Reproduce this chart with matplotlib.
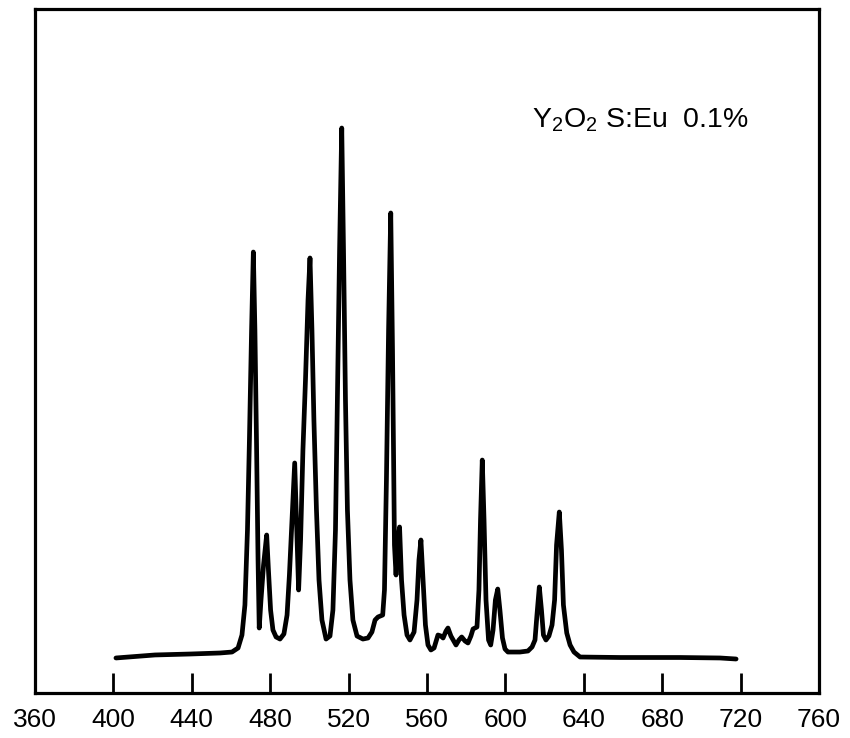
import matplotlib
matplotlib.use("Agg")
import matplotlib.pyplot as plt

plt.rcParams['font.family'] = ['Liberation Sans', 'DejaVu Sans']
plt.rcParams['mathtext.default'] = 'regular'

# Emission spectrum of Y2O2S:Eu 0.1% (wavelength nm, relative intensity)
wavelength = [
    401.3, 411.0, 421.2, 439.1, 454.4, 460.5, 463.6, 465.6, 467.1, 468.4,
    469.4, 470.5, 471.4, 472.2, 473.0, 473.8, 474.4, 475.3, 476.6, 478.2,
    479.1, 480.2, 481.4, 483.0, 485.0, 487.0, 488.6, 489.8, 491.1, 492.5,
    493.4, 494.5, 495.5, 496.7, 498.0, 499.3, 500.3, 501.3, 502.3, 503.6,
    504.9, 506.4, 508.5, 510.5, 512.0, 513.3, 514.3, 515.4, 516.5, 517.4,
    518.4, 519.4, 520.7, 522.2, 524.3, 527.3, 529.9, 531.9, 533.5, 535.0,
    537.4, 538.3, 539.3, 540.4, 541.5, 542.4, 543.4, 544.2, 544.9, 546.0,
    547.0, 548.3, 549.8, 551.3, 553.4, 554.9, 555.9, 556.9, 558.0, 559.2,
    560.5, 562.0, 563.6, 565.6, 567.1, 568.2, 569.7, 570.7, 572.2, 574.8,
    576.3, 577.7, 579.4, 580.9, 582.4, 583.5, 585.5, 586.5, 587.3, 588.2,
    589.1, 590.1, 591.4, 592.5, 593.7, 594.9, 596.1, 597.2, 598.5, 599.8,
    601.3, 607.4, 611.5, 613.6, 615.1, 616.1, 617.3, 618.4, 619.4, 620.7,
    622.2, 623.8, 625.1, 626.1, 627.5, 628.6, 629.6, 631.3, 633.0, 635.0,
    638.1, 658.5, 689.1, 709.5, 717.7,
]
intensity = [
    5.12, 5.34, 5.56, 5.70, 5.85, 5.99, 6.58, 8.48, 12.87, 23.83,
    36.99, 53.07, 64.47, 53.07, 36.99, 19.44, 9.50, 13.60, 18.71, 23.10,
    17.98, 12.13, 9.21, 8.19, 7.89, 8.63, 11.40, 17.25, 25.29, 33.63,
    25.29, 15.06, 22.37, 35.53, 45.76, 57.46, 63.60, 53.07, 39.91, 26.75,
    16.52, 10.67, 7.89, 8.33, 12.13, 23.83, 42.84, 64.77, 82.60, 64.77,
    42.84, 26.75, 16.52, 10.67, 8.33, 7.89, 8.04, 8.92, 10.67, 11.11,
    11.40, 15.06, 31.14, 53.07, 70.18, 50.15, 21.64, 17.25, 21.64, 24.27,
    16.52, 11.40, 8.48, 7.75, 8.92, 13.60, 19.44, 22.37, 16.52, 9.94,
    7.02, 6.29, 6.58, 8.48, 8.33, 8.04, 9.06, 9.50, 8.33, 7.02,
    7.75, 8.19, 7.60, 7.31, 8.33, 9.36, 9.65, 15.06, 25.29, 34.06,
    25.29, 13.60, 7.75, 7.02, 9.21, 13.60, 15.20, 12.13, 8.04, 6.43,
    5.99, 5.99, 6.14, 6.73, 7.75, 11.40, 15.50, 12.13, 8.48, 7.75,
    8.33, 9.94, 13.60, 21.64, 26.46, 20.91, 12.87, 8.77, 7.02, 5.99,
    5.26, 5.19, 5.19, 5.12, 4.97,
]
xticks = [360, 400, 440, 480, 520, 560, 600, 640, 680, 720, 760]
label_text = r'Y$_2$O$_2$ S:Eu  0.1%'

fig = plt.figure(figsize=(8.5, 7.38), dpi=100)
ax = fig.add_axes([35/850, 1-693/738, 784/850, 684/738])

ax.plot(wavelength, intensity, color='black', lw=3.4,
        solid_joinstyle='round', solid_capstyle='round')

ax.set_xlim(360, 760)
ax.set_ylim(0, 100)
ax.set_xticks(xticks)
ax.set_xticklabels([str(t) for t in xticks])
ax.set_yticks([])
ax.tick_params(axis='x', direction='in', length=14.5, width=2.0,
               pad=11, labelsize=19, colors='black')
for s in ax.spines.values():
    s.set_linewidth(2.3)
    s.set_color('black')

ax.text(613.4, 82.7, label_text, fontsize=20.5, ha='left', va='baseline',
        color='black')

fig.savefig('out.png', dpi=100)
